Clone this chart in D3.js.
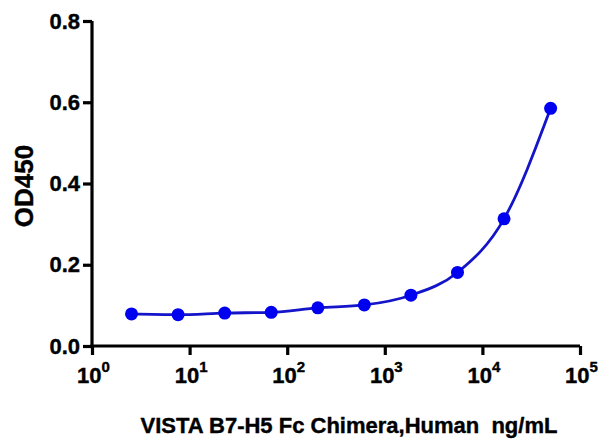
<!DOCTYPE html>
<html>
<head>
<meta charset="utf-8">
<script src="https://cdn.jsdelivr.net/npm/d3@7"></script>
<style>
  body { margin: 0; background: #fff; }
  text { font-family: "Liberation Sans", Arial, sans-serif; font-weight: bold; stroke: #000; stroke-width: 0.4px; }
</style>
</head>
<body>
<svg id="chart"></svg>
<script>
// Data (3-fold dilution series)
const concentrations = [2.54, 7.62, 22.9, 68.6, 206, 617, 1852, 5556, 16667, 50000];
const od450 = [0.079, 0.077, 0.081, 0.083, 0.094, 0.101, 0.125, 0.181, 0.313, 0.585];
const yTicks = [0, 0.2, 0.4, 0.6, 0.8];
const xTicks = [1, 10, 100, 1000, 10000, 100000];

const width = 603, height = 448;
const margin = { left: 92, right: 23, top: 21, bottom: 102 };

const svg = d3.select("#chart")
    .attr("width", width)
    .attr("height", height);

const x = d3.scaleLog()
    .domain([1, 100000])
    .range([margin.left, width - margin.right]);

const y = d3.scaleLinear()
    .domain([0, 0.8])
    .range([height - margin.bottom, margin.top]);

const points = concentrations.map((c, i) => ({ c, v: od450[i] }));

// Curve through the points
const line = d3.line()
    .x(d => x(d.c))
    .y(d => y(d.v))
    .curve(d3.curveMonotoneX);

svg.append("path")
    .datum(points)
    .attr("fill", "none")
    .attr("stroke", "#1414c8")
    .attr("stroke-width", 2.8)
    .attr("d", line);

svg.append("g")
    .selectAll("circle")
    .data(points)
    .join("circle")
    .attr("cx", d => x(d.c))
    .attr("cy", d => y(d.v))
    .attr("r", 6.5)
    .attr("fill", "#0000f0");

// Y axis
const yAxis = svg.append("g")
    .attr("transform", `translate(${margin.left},0)`)
    .call(d3.axisLeft(y).tickValues(yTicks).tickFormat(d3.format(".1f")).tickSize(9).tickPadding(3));

// X axis
const xAxis = svg.append("g")
    .attr("transform", `translate(0,${height - margin.bottom})`)
    .call(d3.axisBottom(x).tickValues(xTicks).tickFormat("").tickSize(9));

[yAxis, xAxis].forEach(g => {
    g.selectAll(".domain").style("stroke", "#000").style("stroke-width", "3.2px");
    g.selectAll(".tick line").style("stroke", "#000").style("stroke-width", "3.2px");
});

yAxis.selectAll(".domain").attr("d", `M0,${y(0.8)}V${y(0) + 1.6}`);
xAxis.selectAll(".domain").attr("d", `M${x(1) - 1.6},0H${x(100000)}`);

yAxis.selectAll(".tick text")
    .attr("font-size", 22)
    .attr("fill", "#000")
    .attr("font-family", "Liberation Sans, Arial, sans-serif");

// Power-of-ten labels with superscripts
xAxis.selectAll(".tick").each(function (d) {
    const t = d3.select(this).append("text")
        .attr("y", 37)
        .attr("x", 1)
        .attr("text-anchor", "middle")
        .attr("fill", "#000")
        .attr("font-size", 22);
    t.append("tspan").text("10");
    t.append("tspan")
        .attr("dy", -11)
        .attr("font-size", 15)
        .text(Math.round(Math.log10(d)));
});

// Axis titles
svg.append("text")
    .attr("transform", `translate(33,186) rotate(-90)`)
    .attr("text-anchor", "middle")
    .attr("font-size", 26)
    .text("OD450");

svg.append("text")
    .attr("x", 349)
    .attr("y", 433)
    .attr("text-anchor", "middle")
    .attr("font-size", 22)
    .style("white-space", "pre")
    .text("VISTA B7-H5 Fc Chimera,Human  ng/mL");
</script>
</body>
</html>
